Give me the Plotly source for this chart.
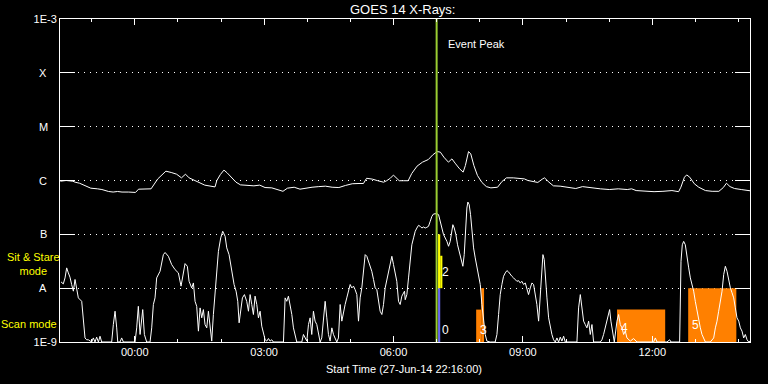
import numpy as np
import pandas as pd
import plotly.graph_objects as go

# ---------------- data ----------------
START = "2014-06-27 22:16:00"
END = "2014-06-28 14:16:00"
EVENT_PEAK = "2014-06-28 07:00:00"

# 1-8 Angstrom channel (minutes after start, W/m^2)
long_min = [0.5, 8.6, 17.9, 21.0, 27.2, 33.4, 42.8, 52.1, 58.3, 67.6, 73.9, 80.1, 86.3, 95.6,
            105.0, 109.3, 117.4, 126.7, 136.0, 147.3, 154.7, 162.2, 169.0, 174.6, 179.6, 187.0,
            192.0, 201.4, 215.7, 218.2, 223.1, 228.1, 232.5, 238.7, 244.9, 251.1, 260.5, 269.8,
            277.9, 285.3, 294.7, 304.0, 310.2, 316.4, 325.8, 333.9, 341.3, 350.7, 360.0, 369.3,
            378.6, 388.0, 397.3, 406.6, 416.0, 422.2, 426.5, 434.6, 442.1, 450.2, 454.5, 459.5,
            463.9, 468.8, 472.0, 478.2, 484.4, 489.4, 496.8, 504.3, 512.4, 518.6, 524.8, 529.2,
            534.1, 540.4, 545.3, 549.7, 555.9, 560.9, 564.0, 568.4, 571.5, 575.8, 580.8, 587.0,
            593.2, 599.5, 608.8, 615.0, 621.2, 630.6, 639.9, 646.1, 651.1, 658.5, 664.8, 671.0,
            674.1, 680.3, 686.5, 695.9, 705.2, 717.6, 727.0, 739.4, 751.8, 764.3, 776.7, 789.2,
            795.4, 801.6, 814.0, 826.5, 838.9, 851.4, 860.7, 863.8, 868.8, 871.9, 876.2, 882.5,
            888.7, 898.0, 907.3, 916.7, 922.9, 927.2, 932.2, 938.4, 947.8, 957.1, 961.5]
long_flux = [9.7e-7, 1.0e-6, 9.7e-7, 9.3e-7, 8.9e-7, 8.1e-7, 7.2e-7, 7.0e-7, 6.8e-7, 6.25e-7,
             6.1e-7, 6.25e-7, 6.1e-7, 6.1e-7, 6.0e-7, 6.9e-7, 6.9e-7, 7.0e-7, 1.07e-6, 1.49e-6,
             1.41e-6, 1.31e-6, 1.12e-6, 1.31e-6, 1.12e-6, 1.01e-6, 9.2e-7, 8.2e-7, 7.6e-7, 1.0e-6,
             1.29e-6, 1.56e-6, 1.39e-6, 1.12e-6, 9.3e-7, 8.3e-7, 8.1e-7, 7.96e-7, 8.2e-7, 7.4e-7,
             7.3e-7, 6.8e-7, 6.3e-7, 7.2e-7, 7.5e-7, 6.9e-7, 7.2e-7, 7.5e-7, 7.7e-7, 7.85e-7,
             7.5e-7, 7.4e-7, 8.1e-7, 8.7e-7, 8.8e-7, 8.8e-7, 1.10e-6, 1.06e-6, 9.9e-7, 9.3e-7,
             9.9e-7, 1.10e-6, 1.26e-6, 1.06e-6, 9.9e-7, 9.9e-7, 9.9e-7, 1.35e-6, 1.85e-6, 2.19e-6,
             2.45e-6, 2.99e-6, 3.45e-6, 3.36e-6, 2.71e-6, 2.19e-6, 2.52e-6, 2.10e-6, 1.65e-6,
             1.43e-6, 1.90e-6, 3.45e-6, 3.12e-6, 1.90e-6, 1.24e-6, 9.2e-7, 7.7e-7, 7.3e-7, 7.5e-7,
             9.6e-7, 1.12e-6, 1.12e-6, 1.10e-6, 1.07e-6, 1.0e-6, 9.7e-7, 9.2e-7, 1.06e-6, 1.12e-6,
             9.3e-7, 7.96e-7, 7.85e-7, 7.5e-7, 7.1e-7, 7.7e-7, 7.3e-7, 7.0e-7, 6.8e-7, 7.0e-7,
             6.8e-7, 7.0e-7, 6.5e-7, 6.3e-7, 6.2e-7, 6.3e-7, 6.5e-7, 6.2e-7, 7.5e-7, 1.15e-6,
             1.27e-6, 1.15e-6, 8.7e-7, 7.5e-7, 6.5e-7, 6.3e-7, 6.3e-7, 7.4e-7, 8.9e-7, 7.7e-7,
             7.1e-7, 6.8e-7, 6.6e-7, 6.4e-7]

# 0.5-4 Angstrom channel (minutes after start, W/m^2)
short_min = [1.4, 4.6, 7.0, 9.3, 11.6, 13.9, 16.2, 18.6, 20.9, 23.2, 25.5, 30.2, 32.5, 34.8,
             37.1, 39.4, 44.1, 46.4, 48.7, 51.0, 53.4, 55.7, 58.0, 71.9, 74.2, 76.6, 78.9, 80.3,
             83.5, 85.8, 88.2, 104.4, 106.7, 109.0, 111.4, 113.7, 115.1, 117.4, 120.6, 125.3,
             127.6, 129.9, 132.2, 134.5, 139.2, 143.8, 146.2, 150.8, 155.4, 160.1, 164.7, 168.4,
             170.8, 174.0, 177.2, 179.6, 183.3, 185.6, 187.9, 190.2, 192.6, 194.9, 197.2, 199.5,
             201.8, 204.2, 206.5, 208.8, 211.1, 213.4, 215.8, 218.1, 220.4, 223.6, 226.4, 229.7,
             232.0, 235.2, 239.0, 242.2, 245.0, 247.3, 249.2, 251.5, 253.8, 256.6, 259.8, 262.2,
             264.5, 266.8, 269.1, 271.4, 273.8, 276.1, 278.4, 280.7, 283.0, 285.4, 287.7, 290.0,
             292.3, 294.6, 296.9, 310.9, 313.2, 315.5, 317.8, 320.2, 322.5, 324.8, 327.1, 329.4,
             336.4, 338.7, 343.4, 345.7, 348.0, 350.3, 352.6, 354.9, 357.3, 359.6, 361.9, 364.2,
             366.6, 368.9, 371.2, 373.5, 375.8, 378.2, 380.5, 382.8, 385.1, 387.4, 389.8, 392.1,
             394.4, 396.7, 399.0, 401.4, 403.7, 406.0, 408.3, 410.6, 413.0, 415.3, 417.6, 419.9,
             422.2, 424.6, 426.9, 429.2, 431.5, 433.8, 436.2, 438.5, 440.8, 443.1, 445.4, 447.8,
             450.1, 452.4, 454.7, 457.0, 459.4, 461.7, 464.0, 466.3, 468.6, 471.0, 473.3, 475.6,
             479.3, 480.3, 482.6, 484.9, 487.2, 489.5, 491.9, 494.2, 496.5, 498.8, 501.1, 503.5,
             505.8, 508.1, 510.4, 512.7, 515.1, 517.4, 519.7, 522.0, 524.3, 526.7, 529.0, 531.3,
             533.6, 538.3, 540.6, 542.9, 545.2, 546.6, 548.5, 550.8, 553.1, 556.8, 560.5, 562.4,
             564.2, 566.1, 567.5, 569.3, 571.2, 573.1, 575.4, 577.7, 580.0, 582.3, 584.7, 587.0,
             589.3, 591.6, 593.9, 598.6, 605.5, 607.9, 610.2, 612.5, 614.8, 617.1, 619.5, 621.8,
             624.1, 626.4, 628.7, 631.1, 633.4, 635.7, 638.0, 640.3, 642.7, 645.0, 647.3, 649.6,
             651.9, 654.3, 656.6, 658.9, 661.2, 663.5, 665.9, 668.2, 670.5, 671.9, 673.7, 675.1,
             677.5, 679.8, 682.1, 684.4, 686.7, 689.1, 691.4, 693.7, 696.0, 698.3, 700.7, 703.0,
             719.2, 721.5, 723.9, 726.2, 728.5, 730.8, 733.1, 735.5, 737.8, 740.1, 742.4, 751.7,
             754.0, 756.3, 758.7, 761.0, 763.3, 764.7, 766.5, 768.9, 771.2, 774.9, 777.2, 779.5,
             781.9, 784.2, 786.5, 788.8, 793.5, 798.1, 802.7, 825.9, 828.3, 830.6, 844.5, 848.2,
             850.1, 862.1, 864.0, 865.8, 867.7, 870.0, 872.3, 874.7, 877.0, 879.3, 881.6, 883.9,
             886.3, 888.6, 890.9, 893.2, 895.5, 897.9, 904.8, 909.5, 911.8, 914.1, 916.4, 918.7,
             921.1, 923.4, 925.7, 928.0, 930.3, 932.7, 935.0, 937.3, 939.6, 941.9, 944.3, 946.6,
             948.9, 951.2, 953.5, 955.9, 958.2, 960.0]
short_flux = [1.31e-8, 1.2e-8, 1.55e-8, 2.38e-8, 1.92e-8, 1.6e-8, 1.17e-8, 8.8e-9, 1.45e-8, 1.01e-8,
              6.6e-9, 5.7e-9, 2.44e-9, 1.19e-9, 1.1e-9, 1.1e-9, 1.0e-9, 1.19e-9, 1.0e-9, 1.23e-9,
              1.0e-9, 1.28e-9, 1.0e-9, 1.0e-9, 2.11e-9, 3.73e-9, 1.83e-9, 1.0e-9, 1.0e-9, 1.19e-9,
              1.0e-9, 1.0e-9, 1.83e-9, 4.6e-9, 1.38e-9, 2.44e-9, 4.0e-9, 1.38e-9, 1.0e-9, 1.0e-9,
              1.83e-9, 4.97e-9, 6.6e-9, 1.55e-8, 2.06e-8, 4.2e-8, 4.6e-8, 3.91e-8, 2.74e-8, 2.21e-8,
              1.92e-8, 1.09e-8, 1.79e-8, 2.86e-8, 2.55e-8, 1.34e-8, 1.01e-8, 1.25e-8, 5.7e-9, 4.6e-9,
              1.59e-9, 4.3e-9, 2.81e-9, 4.0e-9, 2.11e-9, 1.83e-9, 3.73e-9, 2.11e-9, 1.04e-9, 3.24e-9,
              7.6e-9, 2.21e-8, 4.84e-8, 8.6e-8, 1.14e-7, 9.2e-8, 5.6e-8, 4.2e-8, 2.21e-8, 1.17e-8,
              8.8e-9, 5.7e-9, 2.27e-9, 4.3e-9, 6.6e-9, 7.6e-9, 5.7e-9, 3.73e-9, 7.6e-9, 4.97e-9,
              3.24e-9, 7.1e-9, 4.97e-9, 2.81e-9, 3.73e-9, 1.97e-9, 1.38e-9, 1.1e-9, 1.04e-9, 1.16e-9,
              1.04e-9, 1.1e-9, 1.0e-9, 1.0e-9, 6.6e-9, 5.7e-9, 7.1e-9, 4.97e-9, 3.24e-9, 1.83e-9,
              1.38e-9, 1.0e-9, 1.0e-9, 1.38e-9, 1.04e-9, 2.11e-9, 2.81e-9, 1.38e-9, 3.73e-9, 2.44e-9,
              2.11e-9, 1.38e-9, 1.0e-9, 1.19e-9, 3.24e-9, 5.7e-9, 2.81e-9, 1.38e-9, 1.04e-9, 1.83e-9,
              1.38e-9, 1.19e-9, 1.0e-9, 1.19e-9, 4.97e-9, 2.44e-9, 3.73e-9, 4.97e-9, 6.6e-9, 8.8e-9,
              1.17e-8, 1.01e-8, 1.09e-8, 9.4e-9, 7.6e-9, 2.44e-9, 6.6e-9, 1.01e-8, 1.79e-8, 4.2e-8,
              3.91e-8, 3.16e-8, 2.55e-8, 2.06e-8, 1.45e-8, 1.01e-8, 9.4e-9, 5.7e-9, 3.73e-9, 3.24e-9,
              4.97e-9, 1.01e-8, 1.45e-8, 1.79e-8, 2.74e-8, 3.91e-8, 2.74e-8, 1.79e-8, 1.34e-8, 5.7e-9,
              4.97e-9, 7.1e-9, 8.8e-9, 6.1e-9, 7.6e-9, 1.55e-8, 3.65e-8, 6.4e-8, 8.6e-8, 1.14e-7,
              1.31e-7, 1.47e-7, 1.41e-7, 1.31e-7, 1.37e-7, 1.31e-7, 1.35e-7, 1.41e-7, 1.75e-7, 2.16e-7,
              2.39e-7, 2.42e-7, 2.42e-7, 2.32e-7, 1.75e-7, 1.31e-7, 9.9e-8, 7.4e-8, 6.0e-8, 7.4e-8,
              1.31e-7, 1.51e-7, 1.31e-7, 9.9e-8, 6.4e-8, 3.91e-8, 2.55e-8, 4.2e-8, 1.51e-7, 3.08e-7,
              3.98e-7, 3.56e-7, 2.32e-7, 1.14e-7, 5.6e-8, 3.65e-8, 2.38e-8, 1.79e-8, 1.17e-8, 4.97e-9,
              2.44e-9, 1.38e-9, 1.04e-9, 1.0e-9, 1.0e-9, 1.38e-9, 3.24e-9, 7.6e-9, 1.17e-8, 1.66e-8,
              1.92e-8, 2.12e-8, 2.0e-8, 1.79e-8, 1.66e-8, 1.55e-8, 1.45e-8, 1.34e-8, 1.38e-8, 1.25e-8,
              1.34e-8, 1.17e-8, 1.25e-8, 1.01e-8, 7.6e-9, 1.01e-8, 1.25e-8, 1.17e-8, 7.6e-9, 4.97e-9,
              2.44e-9, 7.6e-9, 3.16e-8, 4.2e-8, 3.4e-8, 1.55e-8, 6.6e-9, 2.81e-9, 1.83e-9, 1.38e-9,
              1.1e-9, 1.0e-9, 1.19e-9, 1.0e-9, 1.23e-9, 1.04e-9, 1.28e-9, 1.0e-9, 1.0e-9, 4.3e-9,
              7.6e-9, 3.73e-9, 2.44e-9, 2.11e-9, 1.83e-9, 2.44e-9, 1.38e-9, 2.11e-9, 1.0e-9, 1.0e-9,
              1.1e-9, 1.38e-9, 1.83e-9, 2.44e-9, 3.24e-9, 4.0e-9, 2.44e-9, 1.38e-9, 1.0e-9, 2.44e-9,
              3.24e-9, 2.11e-9, 1.83e-9, 1.38e-9, 1.59e-9, 1.19e-9, 1.04e-9, 1.16e-9, 1.0e-9, 1.0e-9,
              1.19e-9, 1.0e-9, 1.0e-9, 1.1e-9, 1.0e-9, 1.0e-9, 3.16e-8, 6.4e-8, 7.4e-8, 6.4e-8,
              3.65e-8, 2.38e-8, 1.55e-8, 1.17e-8, 8.8e-9, 5.7e-9, 3.73e-9, 2.44e-9, 1.83e-9, 1.38e-9,
              1.19e-9, 1.0e-9, 1.0e-9, 1.19e-9, 1.83e-9, 2.44e-9, 3.73e-9, 5.7e-9, 8.8e-9, 1.79e-8,
              2.55e-8, 2.06e-8, 1.34e-8, 1.01e-8, 8.2e-9, 6.6e-9, 4.3e-9, 2.81e-9, 2.44e-9, 1.83e-9,
              1.59e-9, 1.19e-9, 1.38e-9, 1.1e-9, 1.0e-9, 1.04e-9]

# observation blocks
obs_start = ["2014-06-28 07:02", "2014-06-28 07:02", "2014-06-28 07:05", "2014-06-28 07:55",
             "2014-06-28 08:02", "2014-06-28 11:11", "2014-06-28 12:50"]
obs_end = ["2014-06-28 07:05", "2014-06-28 07:05", "2014-06-28 07:08", "2014-06-28 08:02",
           "2014-06-28 08:06", "2014-06-28 12:18", "2014-06-28 13:57"]
obs_base = [1e-9, 1e-8, 1e-8, 1e-9, 1e-9, 1e-9, 1e-9]
obs_top = [1e-8, 1e-7, 4e-8, 4e-9, 1e-8, 4e-9, 1e-8]
obs_kind = ["blue", "yellow", "yellow", "orange", "orange", "orange", "orange"]

obs_label = ["0", "2", "3", "4", "5"]
obs_label_time = ["2014-06-28 07:02", "2014-06-28 07:02", "2014-06-28 07:55",
                  "2014-06-28 11:11", "2014-06-28 12:50"]
obs_label_flux = [1.7e-9, 2.0e-8, 1.7e-9, 1.85e-9, 2.1e-9]

level_names = ["A", "B", "C", "M", "X"]
level_flux = [1e-8, 1e-7, 1e-6, 1e-5, 1e-4]
decade_vals = [1e-9, 1e-8, 1e-7, 1e-6, 1e-5, 1e-4, 1e-3]
decade_text = ["1E-9", "", "", "", "", "", "1E-3"]

# ---------------- styles ----------------
KIND_COLOR = {"blue": "#6a6af0", "yellow": "#ffff00", "orange": "#ff8000"}
FONT = "Liberation Sans"

t0 = pd.Timestamp(START)
long_t = [t0 + pd.Timedelta(minutes=m) for m in long_min]
short_t = [t0 + pd.Timedelta(minutes=m) for m in short_min]

fig = go.Figure()

for s, e, b, t, k in zip(obs_start, obs_end, obs_base, obs_top, obs_kind):
    fig.add_trace(go.Scatter(
        x=[s, s, e, e, s], y=[b, t, t, b, b], mode="lines", fill="toself",
        fillcolor=KIND_COLOR[k], line=dict(width=0, color=KIND_COLOR[k]),
        hoverinfo="skip"))

fig.add_trace(go.Scatter(x=long_t, y=long_flux, mode="lines",
                         line=dict(color="white", width=1)))
fig.add_trace(go.Scatter(x=short_t, y=short_flux, mode="lines",
                         line=dict(color="white", width=1)))

fig.add_trace(go.Scatter(x=[EVENT_PEAK, EVENT_PEAK], y=[decade_vals[0], decade_vals[-1]],
                         mode="lines", line=dict(color="#9acd32", width=2)))

annotations = []
for txt, tt, fl in zip(obs_label, obs_label_time, obs_label_flux):
    annotations.append(dict(x=tt, y=np.log10(fl), xref="x", yref="y", text=txt,
                            showarrow=False, xanchor="left", yanchor="middle", xshift=2,
                            font=dict(family=FONT, size=12, color="white")))
for name, fl in zip(level_names, level_flux):
    annotations.append(dict(x=-0.0246, y=np.log10(fl), xref="paper", yref="y", text=name,
                            showarrow=False, xanchor="center", yanchor="middle",
                            font=dict(family=FONT, size=11, color="white")))
annotations += [
    dict(x=EVENT_PEAK, y=0.923, xref="x", yref="paper", text="Event Peak", showarrow=False,
         xanchor="left", yanchor="middle", xshift=9,
         font=dict(family=FONT, size=11, color="white")),
    dict(x=0.4957, y=1.028, xref="paper", yref="paper", text="GOES 14 X-Rays:",
         showarrow=False, xanchor="center", yanchor="middle",
         font=dict(family=FONT, size=13, color="white")),
    dict(x=0.4986, y=-0.0836, xref="paper", yref="paper",
         text="Start Time (27-Jun-14 22:16:00)", showarrow=False, xanchor="center",
         yanchor="middle", font=dict(family=FONT, size=11, color="white")),
    dict(x=-0.0377, y=0.24, xref="paper", yref="paper", text="Sit & Stare<br>mode",
         showarrow=False, xanchor="center", yanchor="middle", align="center",
         font=dict(family=FONT, size=11, color="#ffff00")),
    dict(x=-0.045, y=0.0557, xref="paper", yref="paper", text="Scan mode",
         showarrow=False, xanchor="center", yanchor="middle",
         font=dict(family=FONT, size=11, color="#ffff00")),
]

fig.update_layout(
    width=768, height=384,
    margin=dict(l=60, r=18, t=19, b=42),
    paper_bgcolor="black", plot_bgcolor="black",
    showlegend=False,
    font=dict(family=FONT, size=11, color="white"),
    annotations=annotations,
    xaxis=dict(type="date", range=[START, END], showline=True, linecolor="white",
               linewidth=1, mirror="ticks", ticks="inside", ticklen=6, tickcolor="white",
               tick0="2014-06-28 00:00", dtick=3 * 3600 * 1000, tickformat="%H:%M",
               showgrid=False, zeroline=False,
               minor=dict(dtick=3600 * 1000, ticks="inside", ticklen=3, tickcolor="white",
                          showgrid=False),
               tickfont=dict(family=FONT, size=11, color="white")),
    yaxis=dict(type="log", range=[-9, -3], showline=True, linecolor="white", linewidth=1,
               mirror="ticks", ticks="inside", ticklen=15, tickcolor="white",
               tickvals=decade_vals, ticktext=decade_text, showgrid=True,
               gridcolor="white", griddash="1px,5px", gridwidth=1, zeroline=False,
               tickfont=dict(family=FONT, size=11, color="white")),
)

fig.write_html("out.html", config={"displayModeBar": False},
               post_script="document.body.style.margin='0';document.body.style.background='black';")
